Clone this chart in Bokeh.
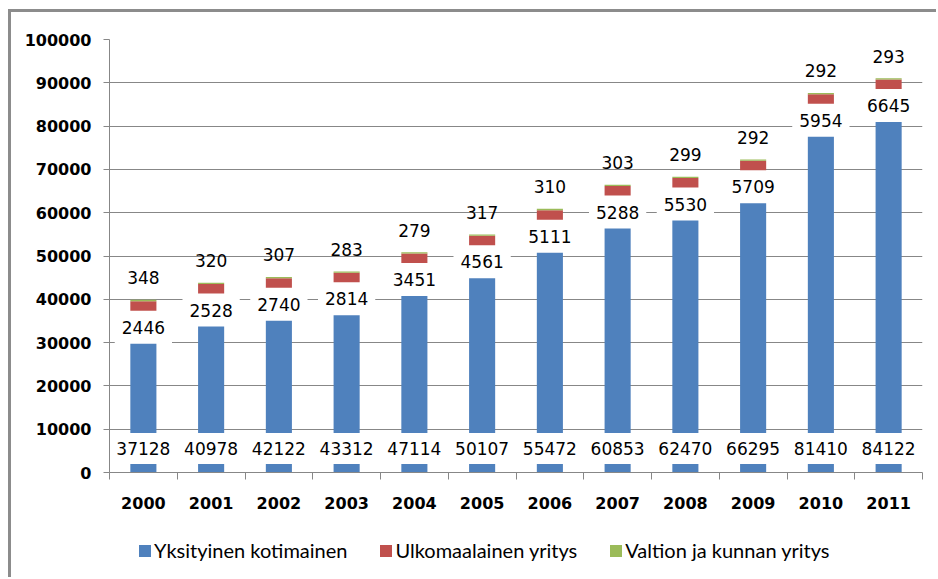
import numpy as np
from bokeh.plotting import figure
from bokeh.layouts import column
from bokeh.models import (ColumnDataSource, Range1d, FixedTicker, Legend, LegendItem,
                          NumeralTickFormatter)
from bokeh.core.properties import value
from bokeh.embed import file_html
from bokeh.resources import INLINE

# ---- data ----
years = ["2000", "2001", "2002", "2003", "2004", "2005",
         "2006", "2007", "2008", "2009", "2010", "2011"]
yksityinen = [37128, 40978, 42122, 43312, 47114, 50107,
              55472, 60853, 62470, 66295, 81410, 84122]
ulkomaalainen = [2446, 2528, 2740, 2814, 3451, 4561,
                 5111, 5288, 5530, 5709, 5954, 6645]
valtio = [348, 320, 307, 283, 279, 317, 310, 303, 299, 292, 292, 293]
series_names = ["Yksityinen kotimainen", "Ulkomaalainen yritys", "Valtion ja kunnan yritys"]
y_ticks = [0, 10000, 20000, 30000, 40000, 50000, 60000, 70000, 80000, 90000, 100000]

# ---- styles ----
BLUE, RED, GREEN = "#4F81BD", "#C0504D", "#9BBB59"
COLORS = [BLUE, RED, GREEN]
GRID = "#878787"
LABEL_FONT = value("DejaVu Sans")

n = len(years)
xc = np.arange(n) + 0.5
b = np.array(yksityinen, dtype=float)
r = np.array(ulkomaalainen, dtype=float)
g = np.array(valtio, dtype=float)

src = ColumnDataSource(dict(
    x=xc, year=years,
    b0=np.zeros(n), b1=b,
    r0=b, r1=b + r,
    g0=b + r, g1=b + r + g,
    bl=[str(v) for v in yksityinen],
    rl=[str(v) for v in ulkomaalainen],
    gl=[str(v) for v in valtio],
))

p = figure(width=936, height=512, output_backend="svg", toolbar_location=None,
           x_range=Range1d(0, n), y_range=Range1d(y_ticks[0], y_ticks[-1]),
           min_border_left=109, min_border_right=14, min_border_top=39, min_border_bottom=40)
p.outline_line_color = None
p.background_fill_color = "white"
p.border_fill_alpha = 0

W = 0.385
rb = p.vbar(x="x", bottom="b0", top="b1", width=W, fill_color=BLUE, line_color=None, source=src)
rr = p.vbar(x="x", bottom="r0", top="r1", width=W, fill_color=RED, line_color=None, source=src)
rg = p.vbar(x="x", bottom="g0", top="g1", width=W, fill_color=GREEN, line_color=None, source=src)

common = dict(x="x", text_font=LABEL_FONT, text_font_size="17px", text_color="black",
              text_align="center", text_baseline="middle", source=src)
# blue: inside base, white box
p.text(y="b0", text="bl", y_offset=-24, background_fill_color="white", padding=(7, 9), **common)
# red: label below the red segment top, white box
p.text(y="r1", text="rl", y_offset=26, background_fill_color="white", padding=(7, 10), **common)
# green: above the stack, no box
p.text(y="g1", text="gl", y_offset=-22, **common)

# axes
xa = p.xaxis[0]
xa.ticker = FixedTicker(ticks=list(xc), minor_ticks=list(range(n + 1)))
xa.major_label_overrides = {float(v): yr for v, yr in zip(xc, years)}
xa.major_tick_out = 0
xa.major_tick_in = 0
xa.minor_tick_out = 7
xa.minor_tick_in = 0
xa.major_label_standoff = 17
xa.axis_line_color = GRID
xa.minor_tick_line_color = GRID
xa.major_label_text_font = "DejaVu Sans"
xa.major_label_text_font_style = "bold"
xa.major_label_text_font_size = "16px"
xa.major_label_text_color = "black"

ya = p.yaxis[0]
ya.ticker = FixedTicker(ticks=y_ticks)
ya.formatter = NumeralTickFormatter(format="0")
ya.major_tick_out = 6
ya.major_tick_in = 0
ya.minor_tick_out = 0
ya.minor_tick_in = 0
ya.major_label_standoff = 12
ya.axis_line_color = GRID
ya.major_tick_line_color = GRID
ya.major_label_text_font = "DejaVu Sans"
ya.major_label_text_font_style = "bold"
ya.major_label_text_font_size = "16px"
ya.major_label_text_color = "black"

p.xgrid.grid_line_color = None
p.ygrid.grid_line_color = GRID
p.ygrid.ticker = FixedTicker(ticks=y_ticks)

# legend strip underneath (its own small figure; frames are aligned with the chart)
p2 = figure(width=936, height=65, output_backend="svg", toolbar_location=None,
            x_range=Range1d(0, 1), y_range=Range1d(0, 1),
            x_axis_location=None, y_axis_location=None, min_border=0)
p2.outline_line_color = None
p2.background_fill_alpha = 0
p2.border_fill_alpha = 0
p2.xgrid.grid_line_color = None
p2.ygrid.grid_line_color = None
items = []
for name, col in zip(series_names, COLORS):
    # zero-size swatch proxy, only used to draw the legend key
    rend = p2.vbar(x=[0.5], bottom=[0], top=[0], width=0, fill_color=col, line_color=None)
    items.append(LegendItem(label=name, renderers=[rend]))
legend = Legend(items=items, orientation="horizontal", location=(28, 15),
                glyph_width=15, glyph_height=15, label_standoff=2, spacing=31,
                padding=0, margin=0, border_line_color=None, background_fill_alpha=0,
                label_text_font="Lato", label_text_font_size="20px", label_text_color="black")
p2.add_layout(legend, "center")

page = column(p, p2, spacing=0,
              styles={"box-shadow": "inset 8px 9px 0 0 white, inset 11px 12px 0 0 #8c8c8c"})

open("out.html", "w").write(file_html(page, INLINE))
